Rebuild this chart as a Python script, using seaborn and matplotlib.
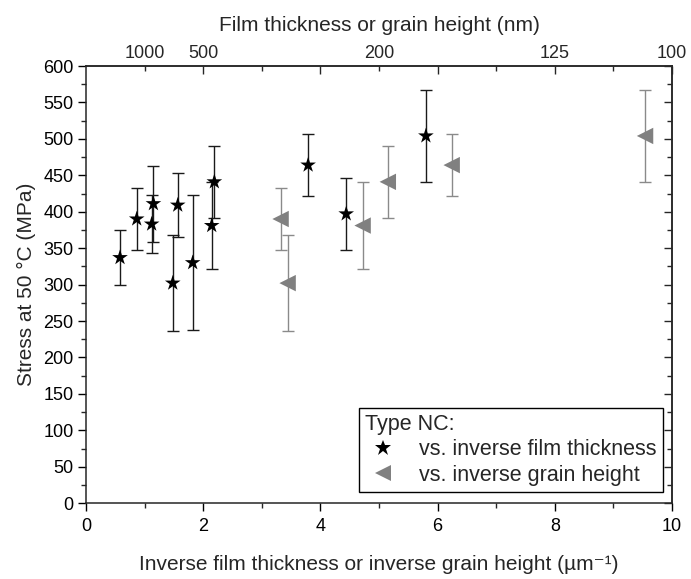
import numpy as np
import pandas as pd
import matplotlib
matplotlib.use("Agg")
import matplotlib.pyplot as plt
from matplotlib.ticker import MultipleLocator, FixedLocator, FixedFormatter
import seaborn as sns

# inverse film thickness series (stars)
film_x = [0.58, 0.865, 1.12, 1.15, 1.48, 1.565, 1.82, 2.145, 2.19, 3.79, 4.44, 5.80]
film_y = [337, 390, 383, 411, 302, 409, 330, 381, 441, 464, 397, 504]
film_err = [38, 42, 40, 52, 66, 44, 93, 60, 49, 42, 49, 63]

# inverse grain height series (triangles)
grain_x = [3.32, 3.44, 4.72, 5.15, 6.24, 9.54]
grain_y = [390, 302, 381, 441, 464, 504]
grain_err = [42, 66, 60, 49, 42, 63]

series_names = ["vs. inverse film thickness", "vs. inverse grain height"]
top_tick_pos = [1, 2, 5, 8, 10]
top_tick_labels = ["1000", "500", "200", "125", "100"]

sns.set_theme(style="ticks")
plt.rcParams["font.family"] = ["Liberation Sans", "DejaVu Sans"]
plt.rcParams["axes.linewidth"] = 1.1

TICK_FS = 13
LABEL_FS = 15
LEG_FS = 15.5

df = pd.DataFrame({
    "x": film_x + grain_x,
    "y": film_y + grain_y,
    "series": [series_names[0]] * len(film_x) + [series_names[1]] * len(grain_x),
})

fig = plt.figure(figsize=(6.91, 5.79), dpi=100)
ax = fig.add_axes([0.1245, 0.131, 0.848, 0.755])

ax.errorbar(film_x, film_y, yerr=film_err, fmt="none", ecolor="#1a1a1a",
            elinewidth=1.0, capsize=4, capthick=1.0, zorder=2)
ax.errorbar(grain_x, grain_y, yerr=grain_err, fmt="none", ecolor="#8a8a8a",
            elinewidth=1.0, capsize=4, capthick=1.0, zorder=2)

sns.scatterplot(data=df, x="x", y="y", hue="series", style="series",
                palette={series_names[0]: "black", series_names[1]: "#808080"},
                markers={series_names[0]: "*", series_names[1]: "<"},
                s=140, edgecolor="none", linewidth=0, ax=ax, zorder=3)

ax.set_xlim(0, 10)
ax.set_ylim(0, 600)
ax.xaxis.set_major_locator(MultipleLocator(2))
ax.xaxis.set_minor_locator(MultipleLocator(1))
ax.yaxis.set_major_locator(MultipleLocator(50))
ax.yaxis.set_minor_locator(MultipleLocator(25))
ax.tick_params(axis="both", which="major", direction="out", length=6, width=1.0,
               labelsize=TICK_FS, colors="black", pad=3)
ax.tick_params(axis="x", which="major", pad=5)
ax.tick_params(axis="both", which="minor", direction="out", length=3.5, width=1.0)

# right side ticks inward
axr = ax.secondary_yaxis("right")
axr.yaxis.set_major_locator(MultipleLocator(50))
axr.yaxis.set_minor_locator(MultipleLocator(25))
axr.tick_params(which="major", direction="in", length=6, width=1.0, labelright=False)
axr.tick_params(which="minor", direction="in", length=3.5, width=1.0, labelright=False)

ax.set_xlabel("Inverse film thickness or inverse grain height (µm⁻¹)",
              fontsize=LABEL_FS, labelpad=14)
ax.set_ylabel("Stress at 50 °C (MPa)", fontsize=LABEL_FS, labelpad=5)

# top axis
axt = ax.secondary_xaxis("top")
axt.xaxis.set_major_locator(FixedLocator([2, 4, 6, 8, 10]))
axt.xaxis.set_minor_locator(FixedLocator([1, 3, 5, 7, 9]))
lab_map = dict(zip(top_tick_pos, top_tick_labels))
axt.xaxis.set_major_formatter(FixedFormatter([lab_map.get(v, "") for v in [2, 4, 6, 8, 10]]))
axt.xaxis.set_minor_formatter(FixedFormatter([lab_map.get(v, "") for v in [1, 3, 5, 7, 9]]))
axt.tick_params(which="major", direction="in", length=6, width=1.0, labelsize=TICK_FS, pad=3)
axt.tick_params(which="minor", direction="in", length=3.5, width=1.0, labelsize=TICK_FS, pad=3)
axt.set_xlabel("Film thickness or grain height (nm)", fontsize=LABEL_FS, labelpad=10)

leg = ax.legend(title="Type NC:", loc="lower right", bbox_to_anchor=(0.985, 0.025),
                borderaxespad=0, fontsize=LEG_FS, title_fontsize=LEG_FS, frameon=True,
                fancybox=False, edgecolor="black", framealpha=1,
                handletextpad=0.9, handlelength=1.6, borderpad=0.3, labelspacing=0.2,
                markerscale=1.0)
leg.get_frame().set_linewidth(1.0)
leg._legend_box.align = "left"

fig.savefig("out.png", dpi=100)
